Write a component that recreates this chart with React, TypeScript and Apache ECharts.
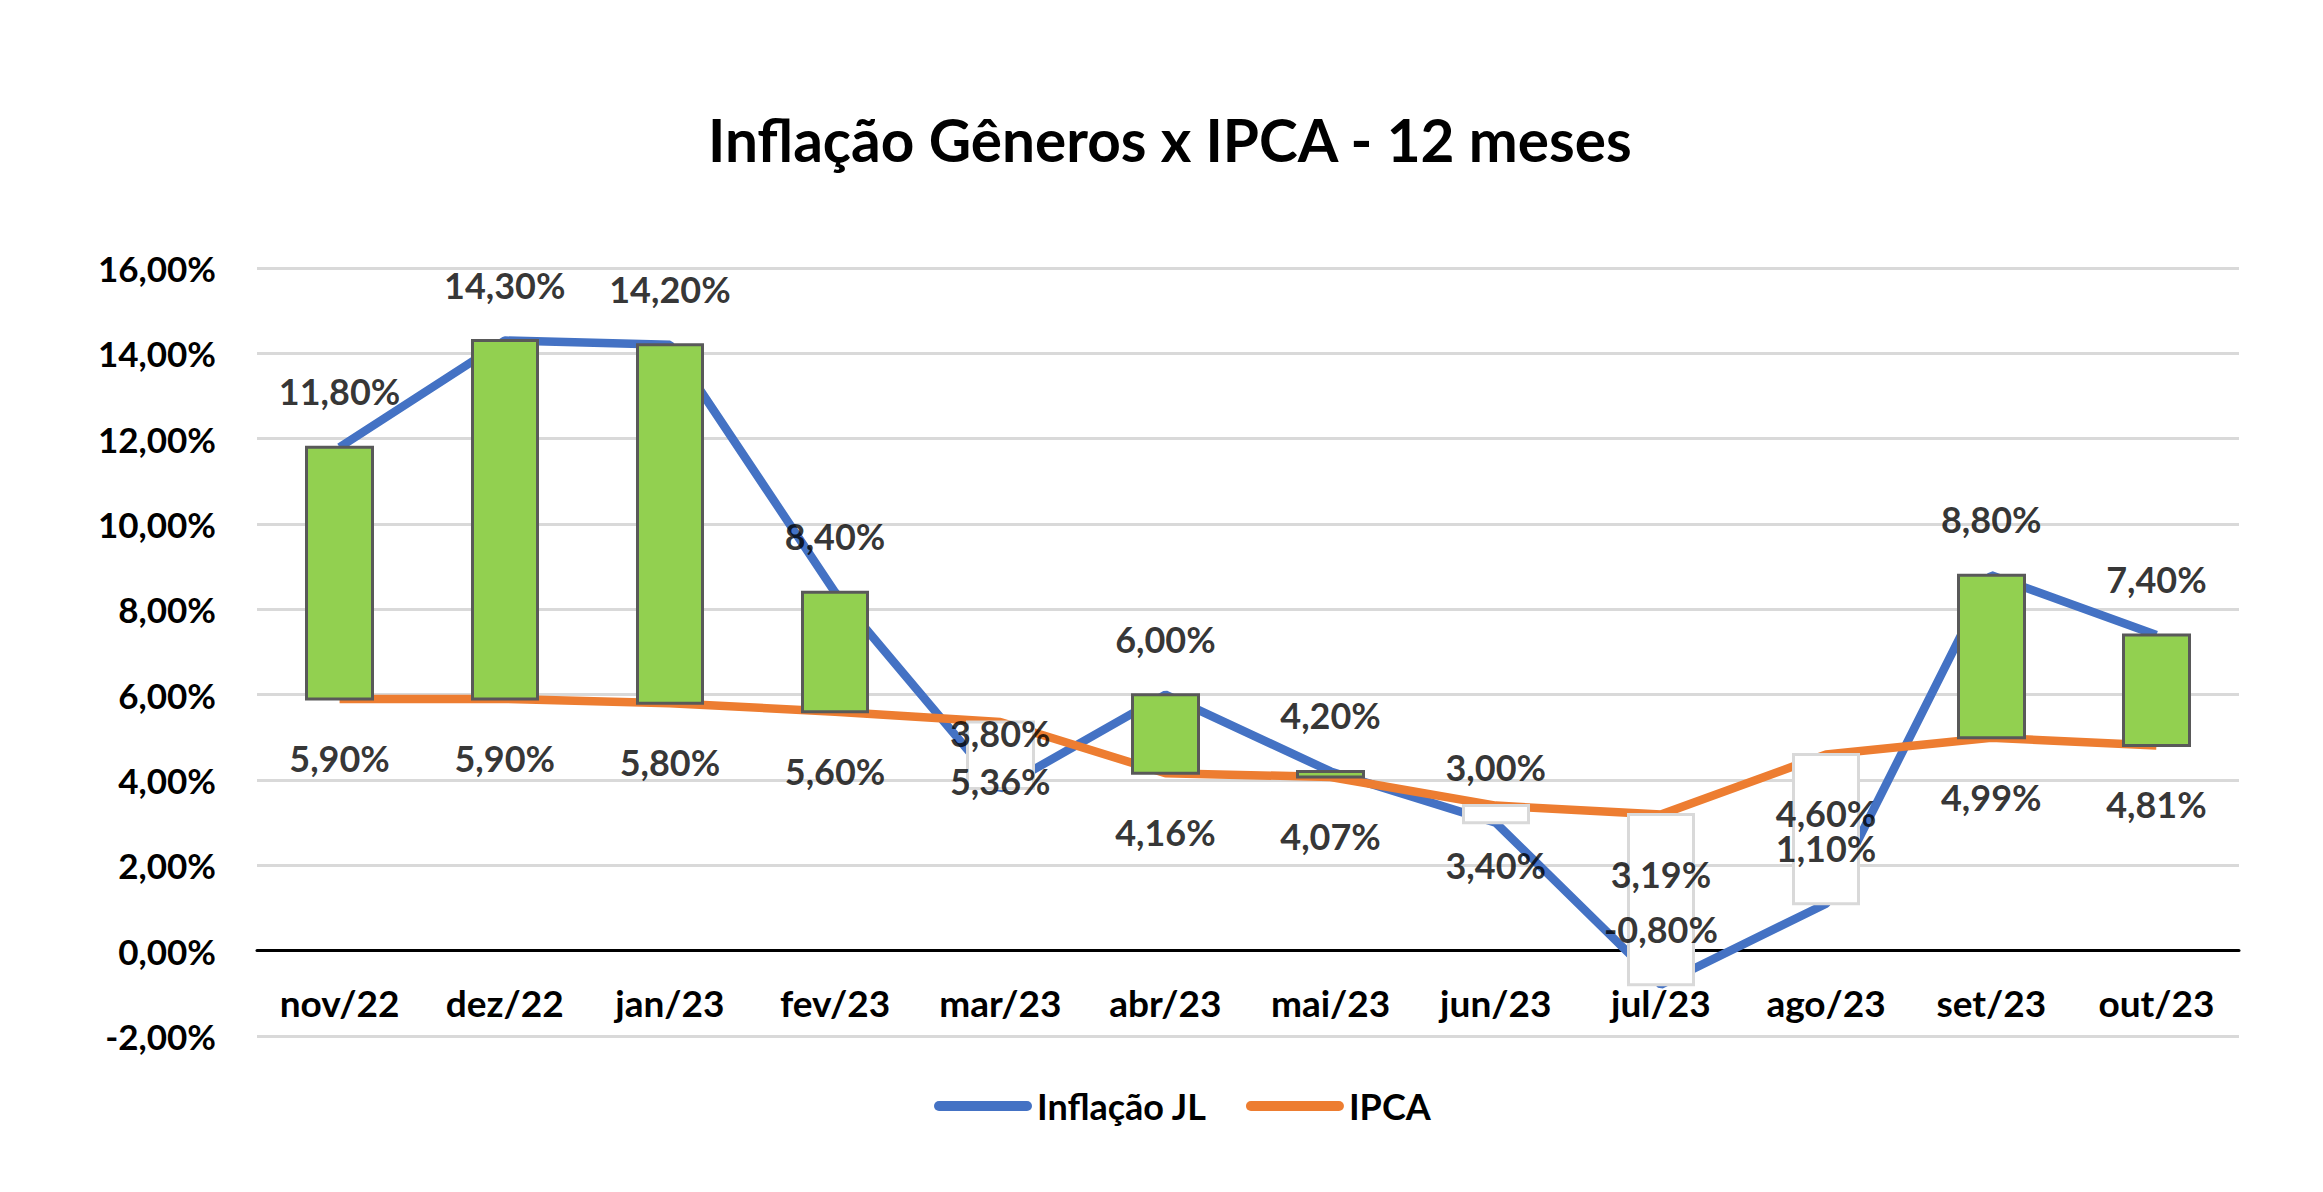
import React, { useEffect, useRef } from "react";
import * as echarts from "echarts";

const categories = ["nov/22", "dez/22", "jan/23", "fev/23", "mar/23", "abr/23", "mai/23", "jun/23", "jul/23", "ago/23", "set/23", "out/23"];
const inflacaoJL = [11.8, 14.3, 14.2, 8.4, 3.8, 6.0, 4.2, 3.0, -0.8, 1.1, 8.8, 7.4];
const ipca = [5.9, 5.9, 5.8, 5.6, 5.36, 4.16, 4.07, 3.4, 3.19, 4.6, 4.99, 4.81];
const yMin = -2;
const yMax = 16;
const yInterval = 2;

const titleText = "Inflação Gêneros x IPCA - 12 meses";
const FONT = "Lato, 'Noto Sans', sans-serif";

const fmt = (v: number) => v.toFixed(2).replace(".", ",") + "%";

const GRID_TOP = 268;
const GRID_BOTTOM = 156;
const CHART_H = 1192;
const LEGEND_ICON = "path://M5,0 L93,0 A5,5 0 0 1 93,10 L5,10 A5,5 0 0 1 5,0 Z";

export default function App() {
  const ref = useRef<HTMLDivElement>(null);
  useEffect(() => {
    if (!ref.current) return;
    const chart = echarts.init(ref.current, undefined, { renderer: "svg" });
    const candleData = categories.map((_, i) => [
      ipca[i],
      inflacaoJL[i],
      Math.min(ipca[i], inflacaoJL[i]),
      Math.max(ipca[i], inflacaoJL[i]),
    ]);
    const gridH = CHART_H - GRID_TOP - GRID_BOTTOM;
    const zeroOffset = -(gridH * (0 - yMin)) / (yMax - yMin);
    const labelStyle = {
      show: true,
      color: "#000",
      fontFamily: FONT,
      fontWeight: "bold" as const,
      fontSize: 36,
      formatter: (p: any) => fmt(Array.isArray(p.value) ? p.value[1] : p.value),
    };
    chart.setOption({
      animation: false,
      backgroundColor: "#fff",
      title: {
        text: titleText,
        left: 703,
        top: 104,
        textStyle: { fontFamily: FONT, fontWeight: "bold", fontSize: 58.5, color: "#000" },
      },
      legend: {
        data: [
          { name: "Inflação JL", icon: LEGEND_ICON },
          { name: "IPCA", icon: LEGEND_ICON },
        ],
        left: 929,
        top: 1083,
        itemWidth: 98,
        itemHeight: 10,
        itemGap: 39,
        textStyle: { fontFamily: FONT, fontWeight: "bold", fontSize: 36, color: "#000" },
      },
      grid: { left: 257, right: 84, top: GRID_TOP, bottom: GRID_BOTTOM, containLabel: false },
      xAxis: {
        type: "category",
        data: categories,
        offset: zeroOffset,
        axisTick: { show: false },
        axisLine: { onZero: false, lineStyle: { color: "#000", width: 3 } },
        axisLabel: { fontFamily: FONT, fontWeight: "bold", fontSize: 37, color: "#000", margin: 33 },
      },
      yAxis: {
        type: "value",
        min: yMin,
        max: yMax,
        interval: yInterval,
        axisLine: { show: false },
        axisTick: { show: false },
        splitLine: { lineStyle: { color: "#D9D9D9", width: 3 } },
        axisLabel: {
          fontFamily: FONT,
          fontWeight: "bold",
          fontSize: 35,
          color: "#000",
          margin: 41,
          formatter: (v: number) => fmt(v),
        },
      },
      series: [
        {
          name: "Inflação JL",
          type: "line",
          data: inflacaoJL,
          symbol: "none",
          z: 2,
          lineStyle: { color: "#4472C4", width: 8.5 },
          itemStyle: { color: "#4472C4" },
        },
        {
          name: "IPCA",
          type: "line",
          data: ipca,
          symbol: "none",
          z: 2,
          lineStyle: { color: "#ED7D31", width: 8.5 },
          itemStyle: { color: "#ED7D31" },
        },
        {
          name: "updown",
          type: "candlestick",
          data: candleData,
          barWidth: 66,
          z: 3,
          itemStyle: {
            color: "#92D050",
            color0: "#FFFFFF",
            borderColor: "#595959",
            borderColor0: "#D9D9D9",
            borderWidth: 3,
          },
        },
        {
          name: "jlLabels",
          type: "scatter",
          data: inflacaoJL,
          symbolSize: 0,
          z: 5,
          itemStyle: { color: "rgba(0,0,0,0)" },
          label: { ...labelStyle, position: "top", distance: 38 },
        },
        {
          name: "ipcaLabels",
          type: "scatter",
          data: ipca,
          symbolSize: 0,
          z: 5,
          itemStyle: { color: "rgba(0,0,0,0)" },
          label: { ...labelStyle, position: "bottom", distance: 41 },
        },
      ],
    });
    return () => chart.dispose();
  }, []);
  return (
    <div
      ref={ref}
      style={{ position: "fixed", left: 0, top: 0, width: "2323px", height: "1192px", background: "#fff" }}
    />
  );
}
